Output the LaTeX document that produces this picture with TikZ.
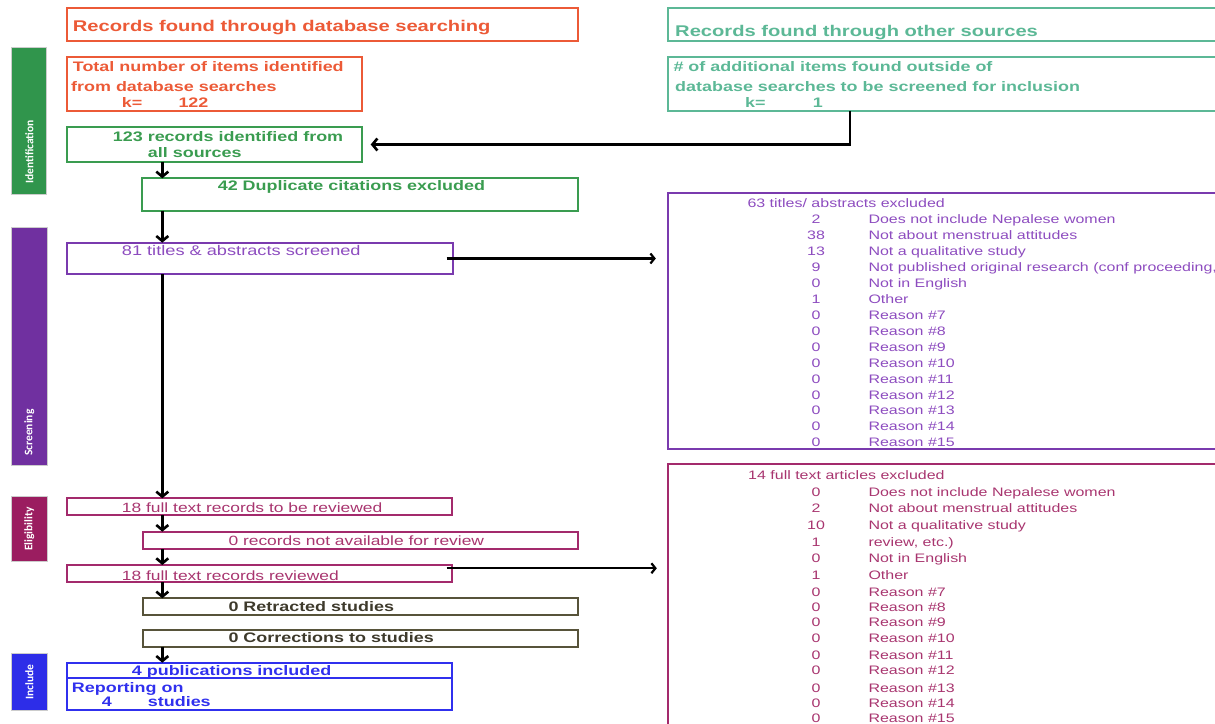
\documentclass[tikz,border=0pt]{standalone}
\usepackage{fontspec}
\setmainfont{Liberation Sans}[FakeStretch=1.3]
\newfontfamily\barfont{Carlito}
\usetikzlibrary{arrows.meta}
\definecolor{orng}{HTML}{EC5A37}
\definecolor{teal2}{HTML}{5CB896}
\definecolor{grn}{HTML}{3A9C50}
\definecolor{purp}{HTML}{7A3AAE}
\definecolor{purptxt}{HTML}{8D4CBF}
\definecolor{mag}{HTML}{A32A6C}
\definecolor{magtxt}{HTML}{A8356F}
\definecolor{olv}{HTML}{57533A}
\definecolor{olvtxt}{HTML}{3E3A2C}
\definecolor{blu}{HTML}{3030EE}
\definecolor{bargrn}{HTML}{30954C}
\definecolor{barpurp}{HTML}{7030A0}
\definecolor{barmag}{HTML}{9B1D60}
\definecolor{barblu}{HTML}{2D2DE8}
\begin{document}
\begin{tikzpicture}[x=1pt,y=-1pt,
  bx/.style={draw, line width=2pt, anchor=north west, inner sep=0pt, outer sep=0pt},
  bar/.style={draw=black!20, line width=1pt, anchor=north west, inner sep=0pt, outer sep=0pt},
  lbl/.style={anchor=base west, inner sep=0pt},
  num/.style={anchor=base, inner sep=0pt},
  barlbl/.style={rotate=90, anchor=west, inner sep=0pt, text=white, font=\barfont\bfseries\fontsize{11.5}{12}\selectfont},
  ttl/.style={font=\bfseries\fontsize{15.5}{17}\selectfont},
  bld/.style={font=\bfseries\fontsize{13.8}{15}\selectfont},
  reg/.style={font=\fontsize{13.4}{15}\selectfont},
  lst/.style={font=\fontsize{12.3}{14}\selectfont},
  arr/.style={line width=2.6pt, -{Straight Barb[length=5pt,width=12pt]}},
  harr/.style={line width=2.2pt, -{Straight Barb[length=4pt,width=10pt]}},
]
\useasboundingbox (0,0) rectangle (1215,723);
\clip (0,0) rectangle (1215,723);

% phase bars
\node[bar, fill=bargrn, minimum width=35.1pt, minimum height=146.7pt] (idbar) at (11.7,47.3) {};
\node[bar, fill=barpurp, minimum width=35.3pt, minimum height=238.4pt] (scrbar) at (11.7,227.3) {};
\node[bar, fill=barmag, minimum width=35.3pt, minimum height=65pt] (elbar) at (11.7,496) {};
\node[bar, fill=barblu, minimum width=35.3pt, minimum height=56.7pt] (incbar) at (11.7,653.3) {};
\node[barlbl] (idlbl) at (29.3,184) {Identification};
\node[barlbl] (scrlbl) at (29.3,456) {Screening};
\node[barlbl] (ellbl) at (29.3,551) {Eligibility};
\node[barlbl] (inclbl) at (29.3,700) {Include};

% boxes
\node[bx, draw=orng, minimum width=511.3pt, minimum height=32.4pt] (dbtitle) at (66.7,8.3) {};
\node[bx, draw=teal2, minimum width=561.7pt, minimum height=32.4pt] (othtitle) at (668.3,8.3) {};
\node[bx, draw=orng, minimum width=295pt, minimum height=54pt] (dbtotal) at (66.7,56.7) {};
\node[bx, draw=teal2, minimum width=561.7pt, minimum height=54pt] (othtotal) at (668.3,56.7) {};
\node[bx, draw=grn, minimum width=295pt, minimum height=34.4pt] (all123) at (66.7,127.3) {};
\node[bx, draw=grn, minimum width=435.6pt, minimum height=32.4pt] (dup42) at (142.4,178.3) {};
\node[bx, draw=purp, minimum width=386pt, minimum height=31.6pt] (scr81) at (66.7,242.7) {};
\node[bx, draw=purp, minimum width=562.2pt, minimum height=256pt] (ex63) at (667.8,193.3) {};
\node[bx, draw=mag, minimum width=384.8pt, minimum height=16.7pt] (ft18) at (66.7,498.3) {};
\node[bx, draw=mag, minimum width=434.8pt, minimum height=17.3pt] (na0) at (142.7,531.7) {};
\node[bx, draw=mag, minimum width=384.8pt, minimum height=17.3pt] (ftr18) at (66.7,565) {};
\node[bx, draw=olv, minimum width=434.8pt, minimum height=16.7pt] (retr) at (142.7,598.3) {};
\node[bx, draw=olv, minimum width=434.8pt, minimum height=16.7pt] (corr) at (142.7,630) {};
\node[bx, draw=blu, minimum width=384.8pt, minimum height=15.6pt] (pub4) at (66.7,662.7) {};
\node[bx, draw=blu, minimum width=384.8pt, minimum height=31.7pt] (rep4) at (66.7,678.3) {};
\node[bx, draw=mag, minimum width=562.2pt, minimum height=276pt] (ex14) at (667.8,464) {};

% texts
\node[lbl, ttl, text=orng] (t1) at (72.7,31) {Records found through database searching};
\node[lbl, ttl, text=teal2] (t2) at (675,36) {Records found through other sources};
\node[lbl, bld, text=orng] (t3a) at (72.7,71.7) {Total number of items identified};
\node[lbl, bld, text=orng] (t3b) at (71,91.7) {from database searches};
\node[lbl, bld, text=orng] (t3c) at (121.7,107.3) {k=};
\node[lbl, bld, text=orng] (t3d) at (178.3,107.3) {122};
\node[lbl, bld, text=teal2] (t4a) at (673.3,71.7) {\# of additional items found outside of};
\node[lbl, bld, text=teal2] (t4b) at (675,91.7) {database searches to be screened for inclusion};
\node[lbl, bld, text=teal2] (t4c) at (745,107.3) {k=};
\node[lbl, bld, text=teal2] (t4d) at (812.7,107.3) {1};
\node[lbl, bld, text=grn] (t5a) at (112.7,141.7) {123 records identified from};
\node[lbl, bld, text=grn] (t5b) at (147.7,157.3) {all sources};
\node[lbl, bld, text=grn] (t6) at (217.6,190) {42 Duplicate citations excluded};
\node[lbl, font=\fontsize{14}{16}\selectfont, text=purptxt] (t7) at (121.7,255.7) {81 titles \& abstracts screened};
\node[lbl, reg, text=magtxt] (t8) at (121.7,512.3) {18 full text records to be reviewed};
\node[lbl, reg, text=magtxt] (t9) at (228.3,545.7) {0 records not available for review};
\node[lbl, reg, text=magtxt] (t10) at (121.7,580) {18 full text records reviewed};
\node[lbl, bld, text=olvtxt] (t11) at (228.3,611) {0 Retracted studies};
\node[lbl, bld, text=olvtxt] (t12) at (228.3,642.7) {0 Corrections to studies};
\node[lbl, bld, text=blu] (t13) at (131.7,675) {4 publications included};
\node[lbl, bld, text=blu] (t14a) at (71.7,692.3) {Reporting on};
\node[lbl, bld, text=blu] (t14b) at (101.7,706.7) {4};
\node[lbl, bld, text=blu] (t14c) at (147.7,706.7) {studies};

% exclusion list 1
\node[lbl, lst, text=purptxt] (l1t) at (747.3,207.5) {63 titles/ abstracts excluded};
\foreach \n/\t [count=\i] in {2/{Does not include Nepalese women}, 38/{Not about menstrual attitudes}, 13/{Not a qualitative study}, 9/{Not published original research (conf proceeding,}, 0/{Not in English}, 1/{Other}, 0/{Reason \#7}, 0/{Reason \#8}, 0/{Reason \#9}, 0/{Reason \#10}, 0/{Reason \#11}, 0/{Reason \#12}, 0/{Reason \#13}, 0/{Reason \#14}, 0/{Reason \#15}}{
  \node[num, lst, text=purptxt] (l1n\i) at (816,207.5+15.96*\i) {\n};
  \node[lbl, lst, text=purptxt] (l1r\i) at (868.3,207.5+15.96*\i) {\t};
}

% exclusion list 2
\node[lbl, lst, text=magtxt] (l2t) at (748,479.5) {14 full text articles excluded};
\foreach \n/\t/\yy [count=\i] in {0/{Does not include Nepalese women}/496.2, 2/{Not about menstrual attitudes}/512.8, 10/{Not a qualitative study}/529.5, 1/{review, etc.)}/546.2, 0/{Not in English}/562.8, 1/{Other}/579.5, 0/{Reason \#7}/596.2, 0/{Reason \#8}/611.2, 0/{Reason \#9}/626.8, 0/{Reason \#10}/642.2, 0/{Reason \#11}/659.5, 0/{Reason \#12}/674.5, 0/{Reason \#13}/692.2, 0/{Reason \#14}/707.2, 0/{Reason \#15}/722.2}{
  \node[num, lst, text=magtxt] (l2n\i) at (816,\yy) {\n};
  \node[lbl, lst, text=magtxt] (l2r\i) at (868.3,\yy) {\t};
}

% connectors
\coordinate (spine) at (162.3,0);
\coordinate (tealx) at (850,0);
\draw[arr] (all123.south -| spine) -- (dup42.north -| spine);
\draw[arr] (dup42.south -| spine) -- (scr81.north -| spine);
\draw[arr] (scr81.south -| spine) -- (ft18.north -| spine);
\draw[arr] (ft18.south -| spine) -- (na0.north -| spine);
\draw[arr] (na0.south -| spine) -- (ftr18.north -| spine);
\draw[arr] (ftr18.south -| spine) -- (retr.north -| spine);
\draw[arr] (corr.south -| spine) -- (pub4.north -| spine);
\draw[arr] (othtotal.south -| tealx) |- ([xshift=9pt]all123.east);
\draw[harr, shorten >=6pt] ([xshift=-6pt]scr81.east) -- ([xshift=-6pt]scr81.east -| ex63.west);
\draw[harr, shorten >=6pt] ([shift={(-5pt,5.4pt)}]ftr18.east) -- ([shift={(-5pt,5.4pt)}]ftr18.east -| ex14.west);
\end{tikzpicture}
\end{document}
